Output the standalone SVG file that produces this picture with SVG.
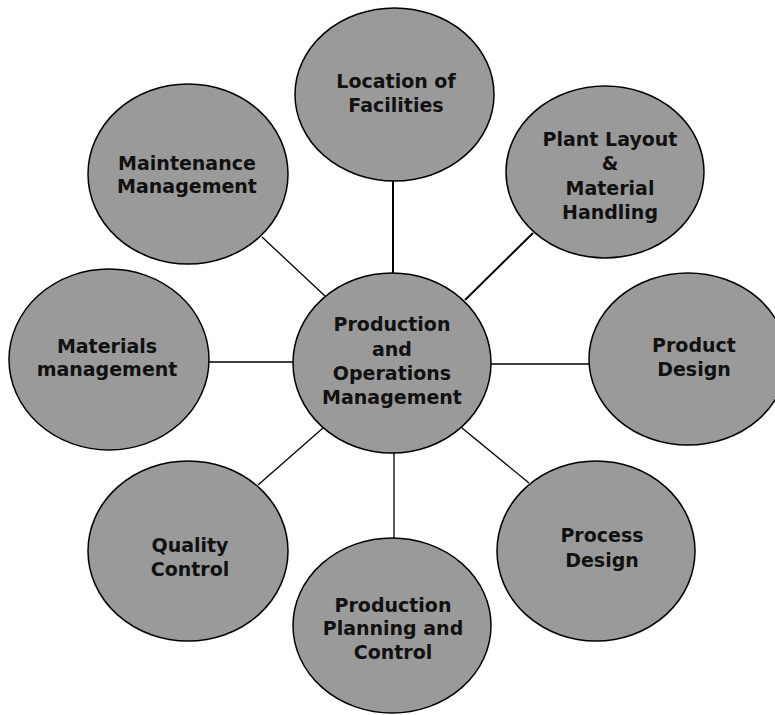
<svg xmlns="http://www.w3.org/2000/svg" width="775" height="715" viewBox="0 0 775 715">
<style>
.n ellipse{fill:#9a9a9a;stroke:#000;stroke-width:1.5}
.n text{font-family:"DejaVu Sans",sans-serif;font-weight:bold;font-size:19px;fill:#111;text-anchor:middle}
.c line{stroke:#000;stroke-width:1.3}
.c line.t{stroke-width:2}
</style>
<rect width="775" height="715" fill="#fff"/>
<g class="c" id="connectors">
<line class="t" x1="393" y1="181" x2="393" y2="274"/>
<line class="t" x1="533" y1="233" x2="465" y2="300"/>
<line x1="491" y1="364" x2="589" y2="364"/>
<line x1="462" y1="428" x2="529" y2="483"/>
<line x1="394" y1="453" x2="394" y2="538"/>
<line x1="258" y1="485" x2="323" y2="428"/>
<line x1="209" y1="362" x2="293" y2="362"/>
<line x1="262" y1="237" x2="325" y2="296"/>
</g>
<g class="n" id="location">
<ellipse cx="394.5" cy="94.5" rx="99.5" ry="86.5"/>
<text x="396" y="88">Location of</text>
<text x="396" y="112">Facilities</text>
</g>
<g class="n" id="plant">
<ellipse cx="605" cy="172" rx="99" ry="86"/>
<text x="610" y="146">Plant Layout</text>
<text x="610" y="170">&amp;</text>
<text x="610" y="195">Material</text>
<text x="610" y="219">Handling</text>
</g>
<g class="n" id="product">
<ellipse cx="688" cy="359" rx="99" ry="86"/>
<text x="694" y="352">Product</text>
<text x="694" y="376">Design</text>
</g>
<g class="n" id="process">
<ellipse cx="596" cy="551" rx="99" ry="90"/>
<text x="602" y="542">Process</text>
<text x="602" y="567">Design</text>
</g>
<g class="n" id="planning">
<ellipse cx="392" cy="625.5" rx="99" ry="87.5"/>
<text x="393" y="612">Production</text>
<text x="393" y="635">Planning and</text>
<text x="393" y="659">Control</text>
</g>
<g class="n" id="quality">
<ellipse cx="188" cy="551" rx="100" ry="90"/>
<text x="190" y="552">Quality</text>
<text x="190" y="576">Control</text>
</g>
<g class="n" id="materials">
<ellipse cx="109" cy="359.5" rx="100" ry="90.5"/>
<text x="107" y="353">Materials</text>
<text x="107" y="376">management</text>
</g>
<g class="n" id="maintenance">
<ellipse cx="188" cy="174" rx="100" ry="90"/>
<text x="187" y="170">Maintenance</text>
<text x="187" y="193">Management</text>
</g>
<g class="n" id="center">
<ellipse cx="392" cy="363" rx="99" ry="90"/>
<text x="392" y="331">Production</text>
<text x="392" y="356">and</text>
<text x="392" y="380">Operations</text>
<text x="392" y="404">Management</text>
</g>
</svg>
